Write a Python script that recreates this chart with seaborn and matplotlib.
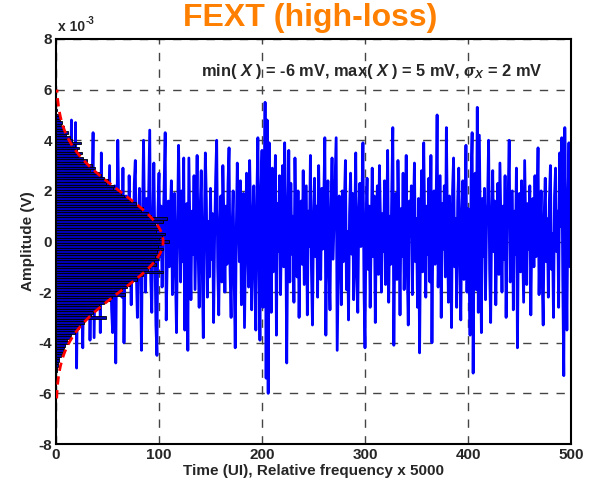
import numpy as np
import pandas as pd
import matplotlib
matplotlib.use("Agg")
import matplotlib.pyplot as plt
import seaborn as sns

# ---- time series (mV), one sample per UI ----
seg0 = [0.8, -1.2, 1.5, 2.6, -0.4, -2.1, 0.3, 1.9, -1.5, -3.2, 0.6, 2.8, 1.0, -1.8, 2.2, 4.8, 1.1, -2.4, 0.9, 4.7,
        -5.0, -1.3, 1.7, 3.1, 0.2, -2.2, -4.2, -0.8, 2.0, 0.5, -1.6, 1.2, 2.5, -3.9, -0.7, 1.4, 4.3, -3.8, -1.0, 2.1,
        0.4, -1.9, 1.0, -3.6, 3.5, 0.8, -2.4, 1.6, -0.6, 2.4, -1.4, 0.9, 3.0, -0.9, -2.7, -3.6, 1.3, 2.2, -4.8, 0.6,
        4.0, 1.1, -1.7, 0.3, -2.2, 2.9, -4.0, -0.5, 1.8, 0.2, -1.1, 2.6, 0.7, -2.5, 1.5, -0.3, 2.3, 3.2, -1.2, -3.0,
        0.5, 2.1, -0.9, -4.3, 1.0, 4.0, 0.6, -2.0, 1.7, -0.4, 2.0, 4.4, -1.5, -2.8, 0.8, 3.1, -0.2, -3.3, -4.5, 1.2]
seg1 = [2.7, -0.6, 1.4, -1.8, 0.4, 2.2, 4.3, -3.1, -0.7, 1.6, -1.0, 0.9, 2.4, -2.1, 0.1, 1.9, -1.3, -3.6, 0.7, 3.8,
        1.0, -1.6, 2.0, -0.8, 3.3, -3.5, 0.3, 1.5, -4.3, 3.3, 0.6, -2.3, 1.2, -0.5, 2.6, -1.9, 0.9, 3.4, -0.3, -2.6,
        1.3, 2.8, -1.1, -3.8, 0.4, 3.5, 1.6, -2.2, 0.8, -1.4, 2.1, -0.7, 1.1, -3.2, 0.2, 2.5, 4.0, -1.0, -2.9, 0.5,
        1.8, -1.6, 3.0, 0.9, -2.0, 1.4, -0.9, 2.3, 3.7, -1.2, -3.0, 0.6, 2.0, -1.5, -4.2, 0.3, 3.1, 1.2, -0.8, 2.4,
        -2.5, 0.8, 1.9, -3.4, -0.4, 2.7, 0.1, -1.8, 3.2, 1.0, -2.7, 0.5, 2.2, -1.3, -3.5, 1.7, 4.1, -0.6, -3.9, 2.0]
seg2 = [3.6, -2.6, 0.9, 5.5, -5.4, 4.8, -6.0, 3.9, 1.3, -2.8, 2.9, -1.2, 0.7, 3.4, -3.7, 1.5, -0.4, 2.6, -2.1, 0.8,
        3.0, -1.0, 3.9, 1.1, -4.8, 0.2, 3.6, -1.6, 2.3, -0.5, 1.0, -2.4, 3.3, 0.4, -1.4, 2.0, -3.0, 0.7, 1.6, -0.9,
        2.8, -1.7, 0.3, 2.2, -2.9, 1.2, -0.2, 3.4, -1.1, -3.3, 0.9, 2.5, -0.6, 1.4, -2.2, 3.0, 0.5, -1.5, 2.1, -0.3,
        1.7, 4.1, -3.7, 0.6, 2.4, -1.0, -2.7, 1.3, 3.3, -0.7, 0.9, 2.6, 4.1, -4.3, -1.2, 1.8, 0.2, -2.5, 2.0, -0.8,
        1.5, 3.2, -1.9, 0.4, -3.1, 1.1, 2.7, -0.5, 1.9, -2.3, 0.7, 3.5, -1.4, -2.8, 1.2, 2.3, -0.2, 1.6, 3.9, -1.8]
seg3 = [-4.2, 0.8, 2.5, -1.1, 1.4, -2.6, 0.3, 2.9, -0.6, 1.8, -3.2, 0.5, 2.2, -1.3, 3.0, 0.9, -2.0, 1.1, -0.4, 2.4,
        -1.7, 0.6, 3.6, -2.4, 1.0, -0.9, 2.0, 4.5, -4.1, 0.3, 1.9, -1.5, 3.2, 0.7, -2.9, 1.3, -0.6, 2.7, -1.9, 0.4,
        3.4, -1.0, -3.3, 1.6, 0.2, 2.2, -2.1, 1.0, 3.1, -0.8, 0.9, -2.6, 1.7, -4.4, 0.5, 2.8, -1.2, 3.9, 0.6, -2.2,
        1.4, -0.5, 2.5, -1.6, 3.4, -4.0, 0.8, 2.0, -0.9, 1.2, 5.0, -1.8, 0.4, 2.6, -3.0, 1.5, -0.3, 2.2, -1.4, 4.5,
        0.7, -2.4, 1.8, 0.2, -3.4, 2.0, 3.3, -1.0, 0.9, -2.6, 1.6, 2.9, -0.7, -3.1, 1.1, 2.4, -1.5, 0.6, 3.8, -2.0]
seg4 = [1.3, -0.8, -3.7, 2.5, 4.3, -5.2, 0.9, 2.7, -1.9, 5.3, -2.8, 4.2, 0.4, -3.6, 1.7, -0.6, 2.1, -2.3, 0.8, 1.5,
        4.0, -1.1, -3.2, 1.0, 2.8, -0.4, 1.6, -2.5, 0.3, 2.3, -1.3, 3.1, 0.6, -2.0, 1.4, -0.7, 2.6, -3.0, 0.9, 1.8,
        4.0, -1.6, 0.2, 2.0, -2.7, 1.2, -0.5, 2.9, -4.2, 0.7, 1.9, -1.2, 2.4, 0.1, -2.4, 3.2, 0.8, -1.7, 1.5, -0.3,
        2.2, -2.9, 0.5, 1.7, -1.0, 2.6, -0.6, 1.3, 3.7, -2.1, 0.4, 2.0, -1.4, -3.3, 1.1, 2.5, -0.8, 0.9, -2.2, 1.6,
        3.0, -1.1, 0.3, -3.0, 1.8, 2.9, -0.4, 1.2, -2.6, 3.5, 0.6, 4.1, -1.5, -5.3, 4.5, 0.2, -3.5, 1.4, 3.9, -1.0, 1.5]

# ---- histogram bar lengths (relative frequency x 5000), top bin first ----
hist_top_mv = 5.2
hist_bin_mv = 0.1
hist_len = [1, 0, 2, 3, 4, 6, 5, 8, 7, 12, 10, 14, 16, 24, 18, 22, 20, 25, 21, 26,
            30, 28, 35, 38, 33, 42, 44, 47, 50, 49, 56, 55, 62, 63, 66, 70, 72, 78, 79, 84,
            83, 89, 92, 108, 104, 96, 99, 101, 97, 106, 103, 100, 110, 102, 99, 104, 98, 101, 96, 99,
            95, 97, 91, 89, 104, 84, 80, 79, 73, 72, 69, 64, 60, 67, 54, 52, 47, 42, 43, 38,
            36, 34, 49, 28, 27, 23, 22, 19, 18, 15, 14, 11, 12, 9, 8, 7, 6, 5, 3, 3,
            2, 2, 1, 1]

# ---- fitted Gaussian parameters ----
fit_mu_mv = 0.0
fit_sigma_mv = 1.95
fit_peak = 104.0

title_text = "FEXT (high-loss)"
xlabel_text = "Time (UI), Relative frequency x 5000"
ylabel_text = "Amplitude (V)"
note_text = r"min( $X$ ) = -6 mV, max( $X$ ) = 5 mV, $\sigma_X$ = 2 mV"
xticks = [0, 100, 200, 300, 400, 500]
yticks_mv = [-8, -6, -4, -2, 0, 2, 4, 6, 8]

# ---------------------------------------------------------------
sns.set_theme(style="white")
plt.rcParams["font.family"] = ["Liberation Sans", "DejaVu Sans"]
plt.rcParams["font.weight"] = "bold"
plt.rcParams["mathtext.fontset"] = "custom"
plt.rcParams["mathtext.rm"] = "Liberation Sans:bold"
plt.rcParams["mathtext.it"] = "Liberation Sans:italic:bold"
plt.rcParams["mathtext.bf"] = "Liberation Sans:bold"

series_mv = np.array(seg0 + seg1 + seg2 + seg3 + seg4)
t = np.arange(len(series_mv))
df = pd.DataFrame({"t": t, "v": series_mv * 1e-3})

centers_mv = hist_top_mv - hist_bin_mv * np.arange(len(hist_len))
lo = (centers_mv.min() - hist_bin_mv / 2) * 1e-3
hi = (centers_mv.max() + hist_bin_mv / 2) * 1e-3
hdf = pd.DataFrame({"y": centers_mv * 1e-3, "w": np.asarray(hist_len, dtype=float)})

ygrid_mv = np.linspace(-6.2, 6.0, 300)
gauss = fit_peak * np.exp(-(ygrid_mv - fit_mu_mv) ** 2 / (2 * fit_sigma_mv ** 2))
gdf = pd.DataFrame({"x": gauss, "y": ygrid_mv * 1e-3})

fig = plt.figure(figsize=(5.91, 4.84), dpi=100)
ax = fig.add_axes([56 / 591, 1 - 444 / 484, 515 / 591, 405 / 484])

sns.lineplot(data=df, x="t", y="v", ax=ax, color="#0000FF", linewidth=2.0,
             estimator=None, sort=False, zorder=2)
sns.histplot(data=hdf, y="y", weights="w", binwidth=hist_bin_mv * 1e-3,
             binrange=(lo, hi), ax=ax, color="#0000B4",
             alpha=1.0, edgecolor="black", linewidth=0.6, zorder=3)
sns.lineplot(data=gdf, x="x", y="y", ax=ax, color="#FF0000", linewidth=2.0,
             estimator=None, sort=False, zorder=4)
ax.lines[-1].set_linestyle((0, (3, 2)))

ax.set_xlim(0, 500)
ax.set_ylim(-8e-3, 8e-3)
ax.set_xticks(xticks)
ax.set_xticklabels([str(v) for v in xticks], fontsize=11, fontweight="bold")
ax.set_yticks([v * 1e-3 for v in yticks_mv])
ax.set_yticklabels([str(v) for v in yticks_mv], fontsize=11, fontweight="bold")
ax.tick_params(direction="in", length=4, width=1, color="black", pad=3)
ax.grid(True, color="#444444", linestyle=(0, (6, 6)), linewidth=1.0)
ax.set_axisbelow(True)
for s in ax.spines.values():
    s.set_color("black")
    s.set_linewidth(1.5)

ax.set_xlabel(xlabel_text, fontsize=11, fontweight="bold", labelpad=1)
ax.set_ylabel(ylabel_text, fontsize=11, fontweight="bold", labelpad=2)

fig.text(310 / 591, 1 - 18 / 484, title_text, ha="center", va="center",
         fontsize=23, fontweight="bold", color="#FF8000")
fig.text(58 / 591, 1 - 31 / 484, "x 10", ha="left", va="baseline",
         fontsize=10, fontweight="bold")
fig.text(86 / 591, 1 - 24 / 484, "-3", ha="left", va="baseline",
         fontsize=7, fontweight="bold")
ax.text((543 - 56) / 515, 0.92, note_text, transform=ax.transAxes, ha="right",
        va="center", fontsize=11.8, fontweight="bold", zorder=6)

fig.savefig("out.png", dpi=100)
